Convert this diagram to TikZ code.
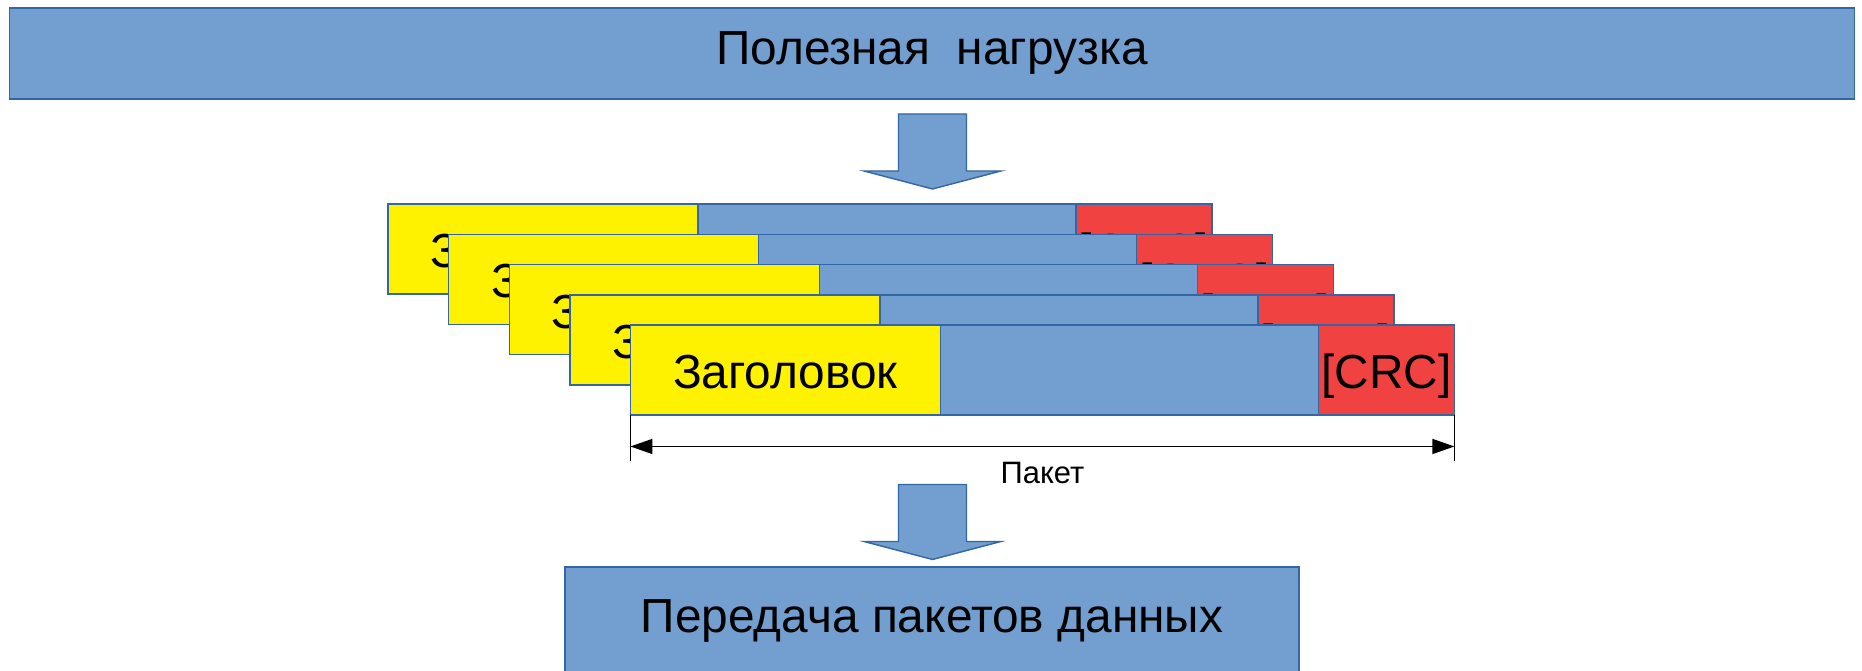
\documentclass[tikz,border=0pt]{standalone}
\usepackage{fontspec}
\setmainfont{Liberation Sans}
\usetikzlibrary{arrows.meta,positioning}

\definecolor{lblue}{RGB}{114,159,207}
\definecolor{lyellow}{RGB}{255,242,0}
\definecolor{lred}{RGB}{240,66,64}
\definecolor{edge}{RGB}{52,101,164}

\begin{document}
\begin{tikzpicture}[
  bar/.style={draw=edge,fill=lblue,line width=0.4pt,inner sep=0pt,outer sep=0pt,font=\fontsize{13.6}{16}\selectfont},
  part/.style={draw=edge,line width=0.4pt,inner sep=0pt,outer sep=0pt,minimum height=0.9cm,
    text height=0.37cm,text depth=0pt,font=\fontsize{13.6}{16}\selectfont},
  blockarr/.style={draw=edge,fill=lblue,line width=0.4pt},
  dim/.style={{Triangle[length=2.2mm,width=1.5mm]}-{Triangle[length=2.2mm,width=1.5mm]},line width=0.4pt},
  lbl/.style={font=\fontsize{8.8}{10}\selectfont}
]
\useasboundingbox (0,0) rectangle (18.62,6.71);

\node[bar,minimum width=18.455cm,minimum height=0.91cm] (load) at (9.32,6.175) {Полезная~~нагрузка};

% arrow down to the packets
\coordinate (a1) at (9.325,5.57);
\draw[blockarr] (a1) ++(-0.34,0) -- ++(0.68,0) -- ++(0,-0.57) -- ++(0.345,0)
  -- ++(-0.685,-0.18) -- ++(-0.685,0.18) -- ++(0.345,0) -- cycle;

% stack of packets, back to front
\foreach \i in {0,...,4} {
  \node[part,fill=lyellow,minimum width=3.10cm,anchor=north west] (hdr\i)
    at ({3.88+0.606*\i},{4.67-0.303*\i}) {Заголовок};
  \node[part,fill=lblue,minimum width=3.78cm,right=0pt of hdr\i] (body\i) {};
  \node[part,fill=lred,minimum width=1.36cm,right=0pt of body\i] (crc\i) {[CRC]};
}

% packet length
\draw[line width=0.3pt] (hdr4.south west) -- ++(0,-0.46);
\draw[line width=0.3pt] (crc4.south east) -- ++(0,-0.46);
\draw[dim] ([yshift=-0.313cm]hdr4.south west) -- ([yshift=-0.313cm]crc4.south east)
  node[lbl,midway,below=0.03cm] {Пакет};

% arrow down to transmission
\coordinate (a2) at (9.325,1.865);
\draw[blockarr] (a2) ++(-0.34,0) -- ++(0.68,0) -- ++(0,-0.57) -- ++(0.345,0)
  -- ++(-0.685,-0.18) -- ++(-0.685,0.18) -- ++(0.345,0) -- cycle;

\node[bar,minimum width=7.34cm,minimum height=1.09cm] (send) at (9.32,0.495) {Передача пакетов данных};

\end{tikzpicture}
\end{document}
